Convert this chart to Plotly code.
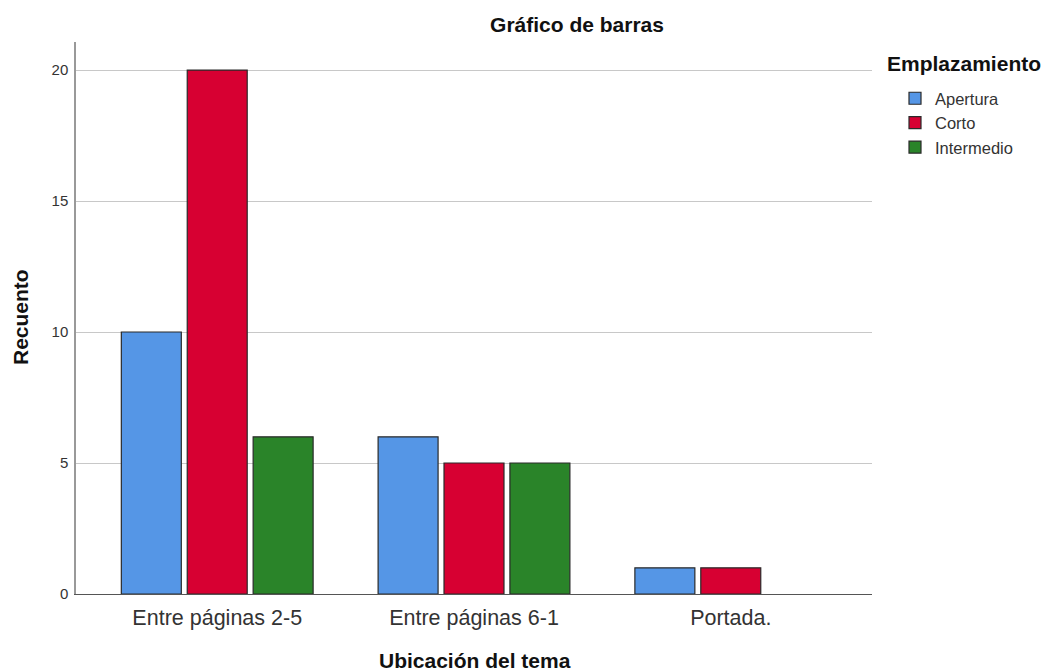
import plotly.graph_objects as go

categories = ["Entre páginas 2-5", "Entre páginas 6-1", "Portada."]
series_names = ["Apertura", "Corto", "Intermedio"]
apertura = [10, 6, 1]
corto = [20, 5, 1]
intermedio = [6, 5, 0]
colors = ["#5596E6", "#D70032", "#2A8429"]
y_ticks = [0, 5, 10, 15, 20]

FONT = "Liberation Sans, Arial, sans-serif"

fig = go.Figure()
for name, vals, col in zip(series_names, [apertura, corto, intermedio], colors):
    fig.add_trace(go.Bar(
        x=categories, y=vals, name=name,
        marker=dict(color=col,
                    line=dict(color="#2a2a2a", width=[1.2 if v else 0 for v in vals])),
    ))

fig.update_layout(
    width=1052, height=670,
    paper_bgcolor="white", plot_bgcolor="white",
    margin=dict(l=68, r=188, t=34, b=84),
    barmode="group", bargap=0.23, bargroupgap=0.09,
    font=dict(family=FONT, color="#333333"),
    title=dict(text="<b>Gráfico de barras</b>", x=569/1052, xref="container", xanchor="center",
               y=1 - 17/670, yref="container", yanchor="middle",
               font=dict(size=21, color="#111111", family=FONT)),
    xaxis=dict(
        type="category", range=[-0.55, 2.55],
        showline=True, linecolor="#555555", linewidth=1,
        ticks="", tickfont=dict(size=21.5, color="#333333"),
        ticklabelstandoff=4,
    ),
    yaxis=dict(
        range=[0, 21.07], tickvals=y_ticks,
        showline=True, linecolor="#999999", linewidth=1.5,
        showgrid=True, gridcolor="#c8c8c8", gridwidth=1.2,
        zeroline=False,
        ticks="", tickfont=dict(size=15, color="#333333"),
        ticklabelstandoff=3,
    ),
    legend=dict(
        x=887/1052, xref="container", y=1 - 73/670, yref="container",
        xanchor="left", yanchor="top",
        font=dict(size=16.5, color="#333333"),
        tracegroupgap=0, itemwidth=30,
        bgcolor="rgba(0,0,0,0)",
    ),
    showlegend=True,
)
fig.add_annotation(
    text="<b>Emplazamiento</b>", xref="paper", yref="paper",
    x=(885 - 76) / 796, y=(594 - 64) / 552,
    xanchor="left", yanchor="middle", showarrow=False,
    font=dict(size=21, color="#111111", family=FONT),
)
fig.add_annotation(
    text="<b>Recuento</b>", xref="paper", yref="paper",
    x=(20 - 76) / 796, y=(594 - 317) / 552, textangle=-90,
    xanchor="center", yanchor="middle", showarrow=False,
    font=dict(size=21, color="#111111", family=FONT),
)
fig.add_annotation(
    text="<b>Ubicación del tema</b>", xref="paper", yref="paper",
    x=(475 - 76) / 796, y=(594 - 660) / 552,
    xanchor="center", yanchor="middle", showarrow=False,
    font=dict(size=21, color="#111111", family=FONT),
)
fig.write_html("out.html")
